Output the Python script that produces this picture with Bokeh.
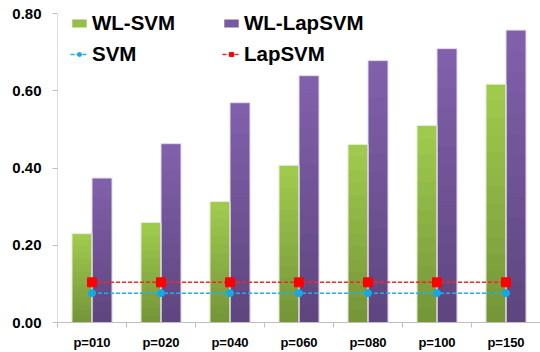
import numpy as np
from bokeh.plotting import figure
from bokeh.models import (FixedTicker, NumeralTickFormatter, Legend, LegendItem)
from bokeh.embed import file_html
from bokeh.resources import INLINE

categories = ["p=010", "p=020", "p=040", "p=060", "p=080", "p=100", "p=150"]
wl_svm = [0.230, 0.259, 0.313, 0.407, 0.461, 0.510, 0.617]
wl_lapsvm = [0.374, 0.463, 0.569, 0.639, 0.678, 0.709, 0.757]
svm = [0.076, 0.076, 0.076, 0.076, 0.076, 0.076, 0.076]
lapsvm = [0.104, 0.104, 0.104, 0.104, 0.104, 0.104, 0.104]
y_ticks = [0.0, 0.2, 0.4, 0.6, 0.8]

n = len(categories)
centers = np.arange(n) + 0.5
bounds = list(np.arange(n + 1).astype(float))

# frame extends a little above the 0.80 tick so the legend stays inside it
px_per_unit = 309 / 0.8
top_border = 2
y_end = (352 - 30 - top_border) / px_per_unit

p = figure(width=540, height=352, output_backend="svg", toolbar_location=None,
           x_range=(0, n), y_range=(0, y_end),
           min_border_left=57, min_border_right=0, min_border_top=top_border,
           min_border_bottom=30)
p.outline_line_color = None
p.xgrid.grid_line_color = None
p.ygrid.grid_line_color = None
p.background_fill_color = "white"
p.border_fill_color = "white"

def lerp(c1, c2, t):
    a = [int(c1[i:i + 2], 16) for i in (1, 3, 5)]
    b = [int(c2[i:i + 2], 16) for i in (1, 3, 5)]
    return "#%02x%02x%02x" % tuple(int(round(a[j] + (b[j] - a[j]) * t)) for j in range(3))

bw = 0.29
N = 14
green_top, green_bot = "#9fca4d", "#76963a"
purp_top, purp_bot = "#8060aa", "#5f4680"
g_vals = np.array(wl_svm)
p_vals = np.array(wl_lapsvm)
legend_g = legend_p = None
for k in range(N):
    f = (N - k) / N
    t = k / (N - 1)
    rg = p.vbar(x=centers - bw / 2, width=bw, top=g_vals * f, bottom=0,
                fill_color=lerp(green_top, green_bot, t), line_color=None)
    rp = p.vbar(x=centers + bw / 2, width=bw, top=p_vals * f, bottom=0,
                fill_color=lerp(purp_top, purp_bot, t), line_color=None)
    if k == 3:
        legend_g, legend_p = rg, rp
p.vbar(x=centers - bw / 2, width=bw, top=g_vals, bottom=0, fill_alpha=0,
       line_color="#e4eed6", line_width=1)
p.vbar(x=centers + bw / 2, width=bw, top=p_vals, bottom=0, fill_alpha=0,
       line_color="#e2dbec", line_width=1)

sl = p.line(centers, svm, line_color="#1fb0ea", line_width=1.5, line_dash="4 2")
sm = p.scatter(centers, svm, marker="circle", size=7, fill_color="#13a9e6",
               line_color="#13a9e6")
ll = p.line(centers, lapsvm, line_color="#ff2020", line_width=1.5, line_dash="4 2")
lm = p.scatter(centers, lapsvm, marker="square", size=9, fill_color="#ff0000",
               line_color="#ff0000")

# y axis line only spans the tick range (0.00 .. 0.80)
p.segment(x0=[0], y0=[y_ticks[0]], x1=[0], y1=[y_ticks[-1]],
          line_color="#bfbfbf", line_width=1)

# axes
xa = p.xaxis[0]
xa.ticker = FixedTicker(ticks=list(centers), minor_ticks=bounds)
xa.major_label_overrides = {float(c): lab for c, lab in zip(centers, categories)}
xa.major_tick_out = 0
xa.major_tick_in = 0
xa.minor_tick_out = 5
xa.minor_tick_in = 0
xa.minor_tick_line_color = "#bfbfbf"
xa.axis_line_color = "#bfbfbf"
xa.major_label_text_font = "Liberation Sans"
xa.major_label_text_font_style = "bold"
xa.major_label_text_font_size = "13px"
xa.major_label_text_color = "black"
xa.major_label_standoff = 7

ya = p.yaxis[0]
ya.ticker = FixedTicker(ticks=y_ticks)
ya.formatter = NumeralTickFormatter(format="0.00")
ya.major_tick_out = 5
ya.major_tick_in = 0
ya.minor_tick_line_color = None
ya.major_tick_line_color = "#bfbfbf"
ya.axis_line_color = None
ya.major_label_text_font = "Liberation Sans"
ya.major_label_text_font_style = "bold"
ya.major_label_text_font_size = "15px"
ya.major_label_text_color = "black"
ya.major_label_standoff = 11

def make_legend(items, loc):
    lg = Legend(items=items, location=loc, orientation="vertical",
                label_text_font="Liberation Sans", label_text_font_style="bold",
                label_text_font_size="20.5px", label_text_color="black",
                glyph_width=18, glyph_height=10, label_standoff=4,
                label_height=22, spacing=7, padding=0, margin=0,
                border_line_color=None, background_fill_alpha=0)
    p.add_layout(lg, "center")

make_legend([LegendItem(label="WL-SVM", renderers=[legend_g]),
             LegendItem(label="SVM", renderers=[sl, sm])], (13, 256))
make_legend([LegendItem(label="WL-LapSVM", renderers=[legend_p]),
             LegendItem(label="LapSVM", renderers=[ll, lm])], (165, 256))

open("out.html", "w").write(file_html(p, INLINE))
